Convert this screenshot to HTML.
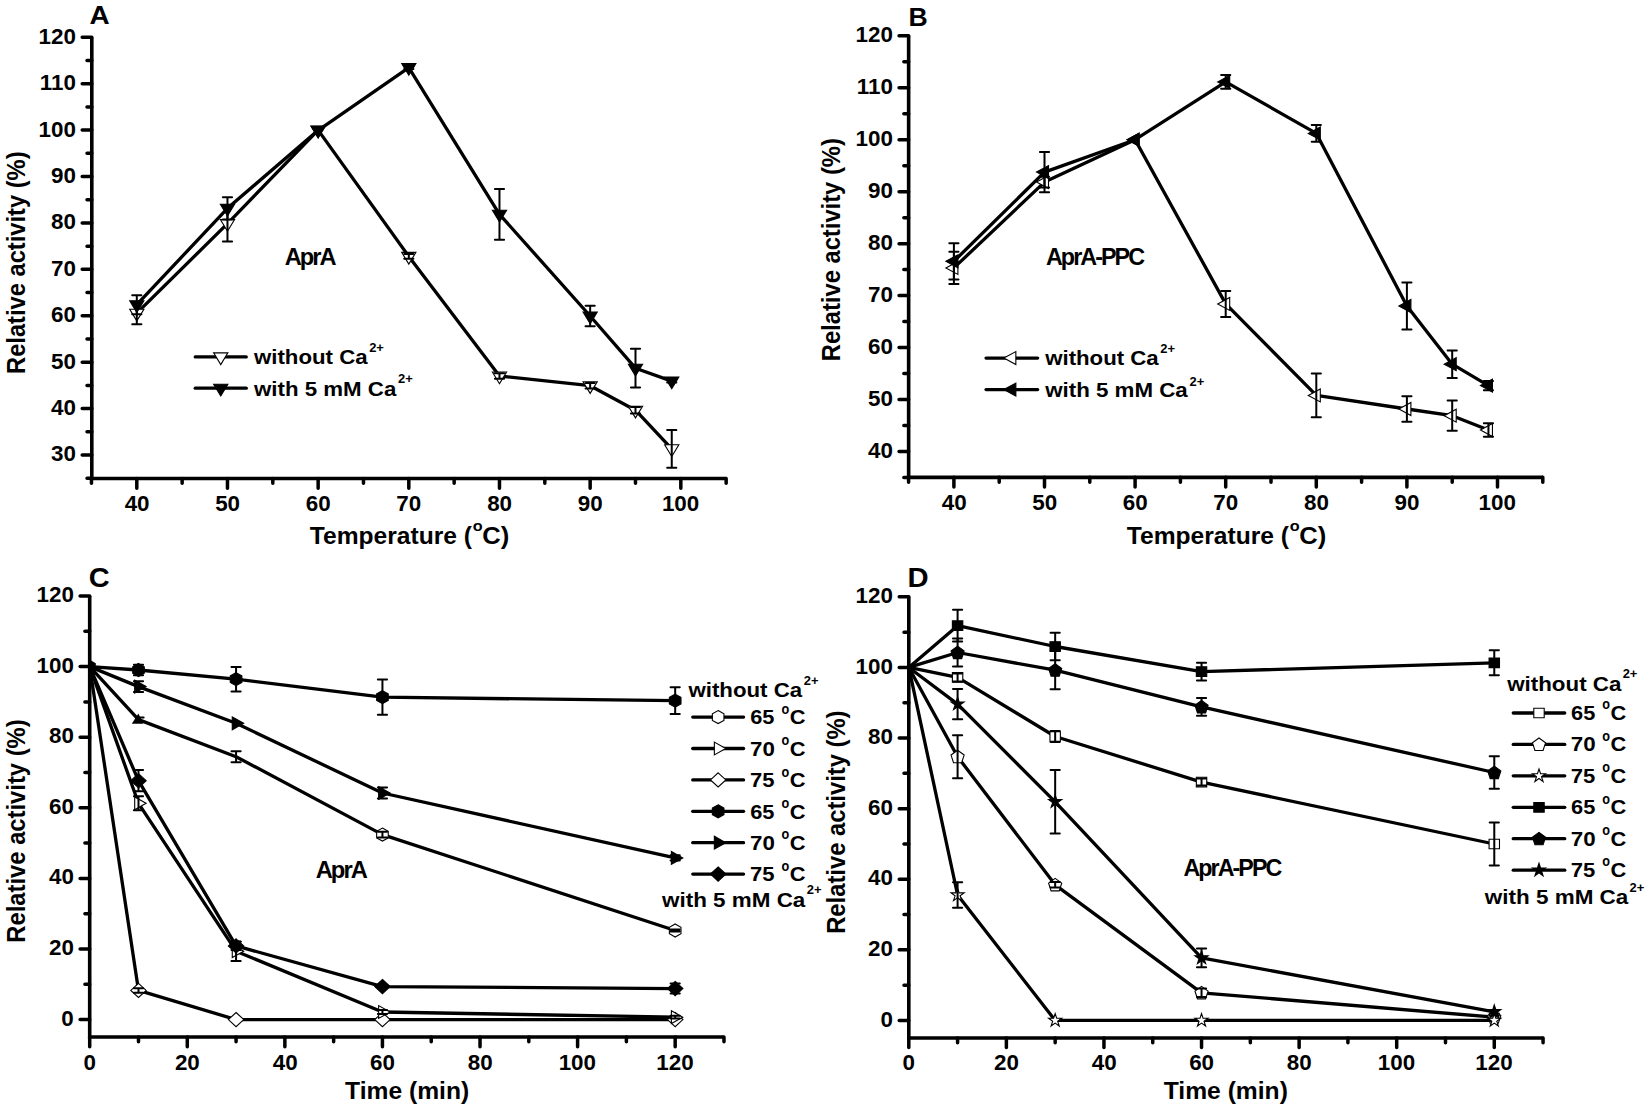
<!DOCTYPE html>
<html lang="en"><head><meta charset="utf-8"><title>Figure</title>
<style>html,body{margin:0;padding:0;background:#fff;}body{width:1650px;height:1110px;overflow:hidden;}svg{display:block;}</style>
</head><body>
<svg width="1650" height="1110" viewBox="0 0 1650 1110" font-family='"Liberation Sans", sans-serif' font-weight="bold" fill="#000">
<rect width="1650" height="1110" fill="#fff"/>
<path d="M91.80,37.30 V478.55 H726.20" stroke="#000" stroke-width="3.6" fill="none" stroke-linejoin="miter"/>
<path d="M91.80,454.99 h-9.60 M91.80,408.58 h-9.60 M91.80,362.17 h-9.60 M91.80,315.76 h-9.60 M91.80,269.35 h-9.60 M91.80,222.94 h-9.60 M91.80,176.53 h-9.60 M91.80,130.12 h-9.60 M91.80,83.71 h-9.60 M91.80,37.30 h-9.60 M91.80,478.19 h-4.80 M91.80,431.79 h-4.80 M91.80,385.38 h-4.80 M91.80,338.97 h-4.80 M91.80,292.56 h-4.80 M91.80,246.14 h-4.80 M91.80,199.74 h-4.80 M91.80,153.32 h-4.80 M91.80,106.91 h-4.80 M91.80,60.50 h-4.80 M136.80,478.55 v9.60 M227.47,478.55 v9.60 M318.14,478.55 v9.60 M408.81,478.55 v9.60 M499.48,478.55 v9.60 M590.15,478.55 v9.60 M680.82,478.55 v9.60 M91.47,478.55 v4.80 M182.14,478.55 v4.80 M272.81,478.55 v4.80 M363.48,478.55 v4.80 M454.15,478.55 v4.80 M544.82,478.55 v4.80 M635.49,478.55 v4.80 M726.15,478.55 v4.80 " stroke="#000" stroke-width="3.5" fill="none" stroke-linecap="round"/>
<text transform="translate(51.03,461.39) scale(1.0000,1)" font-size="22.4">30</text>
<text transform="translate(51.03,414.98) scale(1.0000,1)" font-size="22.4">40</text>
<text transform="translate(51.03,368.57) scale(1.0000,1)" font-size="22.4">50</text>
<text transform="translate(51.03,322.16) scale(1.0000,1)" font-size="22.4">60</text>
<text transform="translate(51.03,275.75) scale(1.0000,1)" font-size="22.4">70</text>
<text transform="translate(51.03,229.34) scale(1.0000,1)" font-size="22.4">80</text>
<text transform="translate(51.03,182.93) scale(1.0000,1)" font-size="22.4">90</text>
<text transform="translate(38.60,136.52) scale(1.0000,1)" font-size="22.4">100</text>
<text transform="translate(39.83,90.11) scale(1.0000,1)" font-size="22.4">110</text>
<text transform="translate(38.60,43.70) scale(1.0000,1)" font-size="22.4">120</text>
<text transform="translate(124.65,510.70) scale(1.0000,1)" font-size="22.4">40</text>
<text transform="translate(215.15,510.70) scale(1.0000,1)" font-size="22.4">50</text>
<text transform="translate(305.76,510.70) scale(1.0000,1)" font-size="22.4">60</text>
<text transform="translate(396.32,510.70) scale(1.0000,1)" font-size="22.4">70</text>
<text transform="translate(487.16,510.70) scale(1.0000,1)" font-size="22.4">80</text>
<text transform="translate(577.77,510.70) scale(1.0000,1)" font-size="22.4">90</text>
<text transform="translate(661.89,510.70) scale(1.0000,1)" font-size="22.4">100</text>
<polyline points="136.80,313.20 227.47,223.60 318.14,130.10 408.81,256.40 499.48,376.00 590.15,385.70 635.49,410.20 671.75,448.80" fill="none" stroke="#000" stroke-width="3.3" stroke-linejoin="round" stroke-linecap="butt"/>
<polygon points="129.70,309.20 143.90,309.20 136.80,320.90" fill="#fff" stroke="#000" stroke-width="1.1"/>
<polygon points="220.37,219.60 234.57,219.60 227.47,231.30" fill="#fff" stroke="#000" stroke-width="1.1"/>
<polygon points="311.04,126.10 325.24,126.10 318.14,137.80" fill="#fff" stroke="#000" stroke-width="1.1"/>
<polygon points="401.71,252.40 415.91,252.40 408.81,264.10" fill="#fff" stroke="#000" stroke-width="1.1"/>
<polygon points="492.38,372.00 506.58,372.00 499.48,383.70" fill="#fff" stroke="#000" stroke-width="1.1"/>
<polygon points="583.05,381.70 597.25,381.70 590.15,393.40" fill="#fff" stroke="#000" stroke-width="1.1"/>
<polygon points="628.38,406.20 642.59,406.20 635.49,417.90" fill="#fff" stroke="#000" stroke-width="1.1"/>
<polygon points="664.65,444.80 678.85,444.80 671.75,456.50" fill="#fff" stroke="#000" stroke-width="1.1"/>
<path d="M136.80,302.10 V324.30 M132.20,302.10 h9.20 M132.20,324.30 h9.20 M227.47,205.60 V241.60 M222.87,205.60 h9.20 M222.87,241.60 h9.20 M408.81,254.10 V258.70 M404.21,254.10 h9.20 M404.21,258.70 h9.20 M499.48,373.20 V378.80 M494.88,373.20 h9.20 M494.88,378.80 h9.20 M590.15,382.90 V388.50 M585.55,382.90 h9.20 M585.55,388.50 h9.20 M635.49,407.00 V413.40 M630.88,407.00 h9.20 M630.88,413.40 h9.20 M671.75,429.90 V467.70 M667.15,429.90 h9.20 M667.15,467.70 h9.20 " stroke="#000" stroke-width="2.0" fill="none" stroke-linecap="round"/>
<polyline points="136.80,304.70 227.47,208.30 318.14,130.30 408.81,67.60 499.48,214.30 590.15,316.00 635.49,368.20 671.75,381.10" fill="none" stroke="#000" stroke-width="3.3" stroke-linejoin="round" stroke-linecap="butt"/>
<polygon points="129.70,300.70 143.90,300.70 136.80,312.40" fill="#000" stroke="#000" stroke-width="1.1"/>
<polygon points="220.37,204.30 234.57,204.30 227.47,216.00" fill="#000" stroke="#000" stroke-width="1.1"/>
<polygon points="311.04,126.30 325.24,126.30 318.14,138.00" fill="#000" stroke="#000" stroke-width="1.1"/>
<polygon points="401.71,63.60 415.91,63.60 408.81,75.30" fill="#000" stroke="#000" stroke-width="1.1"/>
<polygon points="492.38,210.30 506.58,210.30 499.48,222.00" fill="#000" stroke="#000" stroke-width="1.1"/>
<polygon points="583.05,312.00 597.25,312.00 590.15,323.70" fill="#000" stroke="#000" stroke-width="1.1"/>
<polygon points="628.38,364.20 642.59,364.20 635.49,375.90" fill="#000" stroke="#000" stroke-width="1.1"/>
<polygon points="664.65,377.10 678.85,377.10 671.75,388.80" fill="#000" stroke="#000" stroke-width="1.1"/>
<path d="M136.80,295.20 V314.20 M132.20,295.20 h9.20 M132.20,314.20 h9.20 M227.47,197.20 V219.40 M222.87,197.20 h9.20 M222.87,219.40 h9.20 M408.81,66.20 V69.00 M404.21,66.20 h9.20 M404.21,69.00 h9.20 M499.48,188.90 V239.70 M494.88,188.90 h9.20 M494.88,239.70 h9.20 M590.15,305.80 V326.20 M585.55,305.80 h9.20 M585.55,326.20 h9.20 M635.49,348.80 V387.60 M630.88,348.80 h9.20 M630.88,387.60 h9.20 M671.75,379.70 V382.50 M667.15,379.70 h9.20 M667.15,382.50 h9.20 " stroke="#000" stroke-width="2.0" fill="none" stroke-linecap="round"/>
<text transform="translate(89.60,24.00) scale(1.0988,1)" font-size="25.4">A</text>
<text transform="translate(284.71,265.00) scale(0.9852,1)" font-size="24.0" letter-spacing="-2.0">AprA</text>
<path d="M195.25,356.90 H246.25" stroke="#000" stroke-width="3.3" stroke-linecap="round" fill="none"/>
<polygon points="213.65,352.90 227.85,352.90 220.75,364.60" fill="#fff" stroke="#000" stroke-width="1.1"/>
<path d="M195.25,388.20 H246.25" stroke="#000" stroke-width="3.3" stroke-linecap="round" fill="none"/>
<polygon points="213.65,384.20 227.85,384.20 220.75,395.90" fill="#000" stroke="#000" stroke-width="1.1"/>
<text transform="translate(254.00,364.20) scale(1.0585,1)" font-size="21.0">without Ca</text>
<text transform="translate(369.15,351.80) scale(1.0284,1)" font-size="12.6">2+</text>
<text transform="translate(254.00,395.50) scale(1.0611,1)" font-size="21.0">with 5 mM Ca</text>
<text transform="translate(397.95,383.10) scale(1.0284,1)" font-size="12.6">2+</text>
<text transform="translate(309.75,543.60) scale(1.0704,1)" font-size="23.0">Temperature (</text>
<text transform="translate(472.65,531.30) scale(1.0818,1)" font-size="15.0">o</text>
<text transform="translate(482.28,543.60) scale(1.1129,1)" font-size="23.0">C)</text>
<text transform="translate(25.40,373.94) rotate(-90) scale(0.9014,1)" font-size="26.3">Relative activity (%)</text>
<path d="M908.65,35.80 V477.35 H1543.00" stroke="#000" stroke-width="3.6" fill="none" stroke-linejoin="miter"/>
<path d="M908.65,451.48 h-9.60 M908.65,399.52 h-9.60 M908.65,347.56 h-9.60 M908.65,295.60 h-9.60 M908.65,243.64 h-9.60 M908.65,191.68 h-9.60 M908.65,139.72 h-9.60 M908.65,87.76 h-9.60 M908.65,35.80 h-9.60 M908.65,477.46 h-4.80 M908.65,425.50 h-4.80 M908.65,373.54 h-4.80 M908.65,321.58 h-4.80 M908.65,269.62 h-4.80 M908.65,217.66 h-4.80 M908.65,165.70 h-4.80 M908.65,113.74 h-4.80 M908.65,61.78 h-4.80 M953.90,477.35 v9.60 M1044.50,477.35 v9.60 M1135.10,477.35 v9.60 M1225.70,477.35 v9.60 M1316.30,477.35 v9.60 M1406.90,477.35 v9.60 M1497.50,477.35 v9.60 M908.60,477.35 v4.80 M999.20,477.35 v4.80 M1089.80,477.35 v4.80 M1180.40,477.35 v4.80 M1271.00,477.35 v4.80 M1361.60,477.35 v4.80 M1452.20,477.35 v4.80 M1542.80,477.35 v4.80 " stroke="#000" stroke-width="3.5" fill="none" stroke-linecap="round"/>
<text transform="translate(867.93,457.78) scale(1.0000,1)" font-size="22.4">40</text>
<text transform="translate(867.93,405.82) scale(1.0000,1)" font-size="22.4">50</text>
<text transform="translate(867.93,353.86) scale(1.0000,1)" font-size="22.4">60</text>
<text transform="translate(867.93,301.90) scale(1.0000,1)" font-size="22.4">70</text>
<text transform="translate(867.93,249.94) scale(1.0000,1)" font-size="22.4">80</text>
<text transform="translate(867.93,197.98) scale(1.0000,1)" font-size="22.4">90</text>
<text transform="translate(855.50,146.02) scale(1.0000,1)" font-size="22.4">100</text>
<text transform="translate(856.73,94.06) scale(1.0000,1)" font-size="22.4">110</text>
<text transform="translate(855.50,42.10) scale(1.0000,1)" font-size="22.4">120</text>
<text transform="translate(941.75,509.90) scale(1.0000,1)" font-size="22.4">40</text>
<text transform="translate(1032.18,509.90) scale(1.0000,1)" font-size="22.4">50</text>
<text transform="translate(1122.72,509.90) scale(1.0000,1)" font-size="22.4">60</text>
<text transform="translate(1213.21,509.90) scale(1.0000,1)" font-size="22.4">70</text>
<text transform="translate(1303.98,509.90) scale(1.0000,1)" font-size="22.4">80</text>
<text transform="translate(1394.52,509.90) scale(1.0000,1)" font-size="22.4">90</text>
<text transform="translate(1478.57,509.90) scale(1.0000,1)" font-size="22.4">100</text>
<polyline points="953.90,267.90 1044.50,182.10 1135.10,139.70 1225.70,303.90 1316.30,395.40 1406.90,409.00 1452.20,415.70 1488.44,430.00" fill="none" stroke="#000" stroke-width="3.3" stroke-linejoin="round" stroke-linecap="butt"/>
<polygon points="945.90,267.90 957.90,261.40 957.90,274.40" fill="#fff" stroke="#000" stroke-width="1.1"/>
<polygon points="1036.50,182.10 1048.50,175.60 1048.50,188.60" fill="#fff" stroke="#000" stroke-width="1.1"/>
<polygon points="1127.10,139.70 1139.10,133.20 1139.10,146.20" fill="#fff" stroke="#000" stroke-width="1.1"/>
<polygon points="1217.70,303.90 1229.70,297.40 1229.70,310.40" fill="#fff" stroke="#000" stroke-width="1.1"/>
<polygon points="1308.30,395.40 1320.30,388.90 1320.30,401.90" fill="#fff" stroke="#000" stroke-width="1.1"/>
<polygon points="1398.90,409.00 1410.90,402.50 1410.90,415.50" fill="#fff" stroke="#000" stroke-width="1.1"/>
<polygon points="1444.20,415.70 1456.20,409.20 1456.20,422.20" fill="#fff" stroke="#000" stroke-width="1.1"/>
<polygon points="1480.44,430.00 1492.44,423.50 1492.44,436.50" fill="#fff" stroke="#000" stroke-width="1.1"/>
<path d="M953.90,251.80 V284.00 M949.30,251.80 h9.20 M949.30,284.00 h9.20 M1044.50,176.70 V187.50 M1039.90,176.70 h9.20 M1039.90,187.50 h9.20 M1225.70,290.90 V316.90 M1221.10,290.90 h9.20 M1221.10,316.90 h9.20 M1316.30,373.60 V417.20 M1311.70,373.60 h9.20 M1311.70,417.20 h9.20 M1406.90,396.30 V421.70 M1402.30,396.30 h9.20 M1402.30,421.70 h9.20 M1452.20,400.60 V430.80 M1447.60,400.60 h9.20 M1447.60,430.80 h9.20 M1488.44,423.20 V436.80 M1483.84,423.20 h9.20 M1483.84,436.80 h9.20 " stroke="#000" stroke-width="2.0" fill="none" stroke-linecap="round"/>
<polyline points="953.90,261.30 1044.50,172.10 1135.10,139.70 1225.70,81.90 1316.30,133.40 1406.90,306.00 1452.20,364.20 1488.44,385.60" fill="none" stroke="#000" stroke-width="3.3" stroke-linejoin="round" stroke-linecap="butt"/>
<polygon points="945.90,261.30 957.90,254.80 957.90,267.80" fill="#000" stroke="#000" stroke-width="1.1"/>
<polygon points="1036.50,172.10 1048.50,165.60 1048.50,178.60" fill="#000" stroke="#000" stroke-width="1.1"/>
<polygon points="1127.10,139.70 1139.10,133.20 1139.10,146.20" fill="#000" stroke="#000" stroke-width="1.1"/>
<polygon points="1217.70,81.90 1229.70,75.40 1229.70,88.40" fill="#000" stroke="#000" stroke-width="1.1"/>
<polygon points="1308.30,133.40 1320.30,126.90 1320.30,139.90" fill="#000" stroke="#000" stroke-width="1.1"/>
<polygon points="1398.90,306.00 1410.90,299.50 1410.90,312.50" fill="#000" stroke="#000" stroke-width="1.1"/>
<polygon points="1444.20,364.20 1456.20,357.70 1456.20,370.70" fill="#000" stroke="#000" stroke-width="1.1"/>
<polygon points="1480.44,385.60 1492.44,379.10 1492.44,392.10" fill="#000" stroke="#000" stroke-width="1.1"/>
<path d="M953.90,243.15 V279.45 M949.30,243.15 h9.20 M949.30,279.45 h9.20 M1044.50,151.90 V192.30 M1039.90,151.90 h9.20 M1039.90,192.30 h9.20 M1225.70,75.10 V88.70 M1221.10,75.10 h9.20 M1221.10,88.70 h9.20 M1316.30,125.10 V141.70 M1311.70,125.10 h9.20 M1311.70,141.70 h9.20 M1406.90,282.60 V329.40 M1402.30,282.60 h9.20 M1402.30,329.40 h9.20 M1452.20,350.40 V378.00 M1447.60,350.40 h9.20 M1447.60,378.00 h9.20 M1488.44,380.90 V390.30 M1483.84,380.90 h9.20 M1483.84,390.30 h9.20 " stroke="#000" stroke-width="2.0" fill="none" stroke-linecap="round"/>
<text transform="translate(908.47,26.20) scale(1.0456,1)" font-size="25.4">B</text>
<text transform="translate(1045.92,264.90) scale(0.9730,1)" font-size="24.0" letter-spacing="-2.0">AprA-PPC</text>
<path d="M986.05,358.10 H1037.65" stroke="#000" stroke-width="3.3" stroke-linecap="round" fill="none"/>
<polygon points="1003.85,358.10 1015.85,351.60 1015.85,364.60" fill="#fff" stroke="#000" stroke-width="1.1"/>
<path d="M986.05,389.60 H1037.65" stroke="#000" stroke-width="3.3" stroke-linecap="round" fill="none"/>
<polygon points="1003.85,389.60 1015.85,383.10 1015.85,396.10" fill="#000" stroke="#000" stroke-width="1.1"/>
<text transform="translate(1045.20,365.30) scale(1.0585,1)" font-size="21.0">without Ca</text>
<text transform="translate(1160.35,353.30) scale(1.0284,1)" font-size="12.6">2+</text>
<text transform="translate(1045.20,397.20) scale(1.0633,1)" font-size="21.0">with 5 mM Ca</text>
<text transform="translate(1189.45,385.70) scale(1.0284,1)" font-size="12.6">2+</text>
<text transform="translate(1126.75,543.60) scale(1.0704,1)" font-size="23.0">Temperature (</text>
<text transform="translate(1289.65,531.30) scale(1.0818,1)" font-size="15.0">o</text>
<text transform="translate(1299.28,543.60) scale(1.1129,1)" font-size="23.0">C)</text>
<text transform="translate(839.80,361.25) rotate(-90) scale(0.9039,1)" font-size="26.3">Relative activity (%)</text>
<path d="M89.70,596.00 V1037.05 H723.90" stroke="#000" stroke-width="3.6" fill="none" stroke-linejoin="miter"/>
<path d="M89.70,1019.60 h-9.60 M89.70,949.00 h-9.60 M89.70,878.40 h-9.60 M89.70,807.80 h-9.60 M89.70,737.20 h-9.60 M89.70,666.60 h-9.60 M89.70,596.00 h-9.60 M89.70,984.30 h-4.80 M89.70,913.70 h-4.80 M89.70,843.10 h-4.80 M89.70,772.50 h-4.80 M89.70,701.90 h-4.80 M89.70,631.30 h-4.80 M89.70,1037.05 v9.60 M187.28,1037.05 v9.60 M284.86,1037.05 v9.60 M382.44,1037.05 v9.60 M480.02,1037.05 v9.60 M577.60,1037.05 v9.60 M675.18,1037.05 v9.60 M138.49,1037.05 v4.80 M236.07,1037.05 v4.80 M333.65,1037.05 v4.80 M431.23,1037.05 v4.80 M528.81,1037.05 v4.80 M626.39,1037.05 v4.80 M723.97,1037.05 v4.80 " stroke="#000" stroke-width="3.5" fill="none" stroke-linecap="round"/>
<text transform="translate(61.36,1025.60) scale(1.0000,1)" font-size="22.4">0</text>
<text transform="translate(48.93,955.00) scale(1.0000,1)" font-size="22.4">20</text>
<text transform="translate(48.93,884.40) scale(1.0000,1)" font-size="22.4">40</text>
<text transform="translate(48.93,813.80) scale(1.0000,1)" font-size="22.4">60</text>
<text transform="translate(48.93,743.20) scale(1.0000,1)" font-size="22.4">80</text>
<text transform="translate(36.50,672.60) scale(1.0000,1)" font-size="22.4">100</text>
<text transform="translate(36.50,602.00) scale(1.0000,1)" font-size="22.4">120</text>
<text transform="translate(83.48,1069.80) scale(1.0000,1)" font-size="22.4">0</text>
<text transform="translate(174.90,1069.80) scale(1.0000,1)" font-size="22.4">20</text>
<text transform="translate(272.71,1069.80) scale(1.0000,1)" font-size="22.4">40</text>
<text transform="translate(370.06,1069.80) scale(1.0000,1)" font-size="22.4">60</text>
<text transform="translate(467.70,1069.80) scale(1.0000,1)" font-size="22.4">80</text>
<text transform="translate(558.67,1069.80) scale(1.0000,1)" font-size="22.4">100</text>
<text transform="translate(656.25,1069.80) scale(1.0000,1)" font-size="22.4">120</text>
<polyline points="89.70,666.60 138.49,719.60 236.07,756.70 382.44,834.60 675.18,930.50" fill="none" stroke="#000" stroke-width="3.3" stroke-linejoin="round" stroke-linecap="butt"/>
<polygon points="382.44,828.10 388.24,831.30 388.24,837.90 382.44,841.10 376.64,837.90 376.64,831.30" fill="#fff" stroke="#000" stroke-width="1.1"/>
<polygon points="675.18,924.00 680.98,927.20 680.98,933.80 675.18,937.00 669.38,933.80 669.38,927.20" fill="#fff" stroke="#000" stroke-width="1.1"/>
<path d="M236.07,751.20 V762.20 M231.47,751.20 h9.20 M231.47,762.20 h9.20 M382.44,831.80 V837.40 M377.84,831.80 h9.20 M377.84,837.40 h9.20 M675.18,929.40 V931.60 M670.58,929.40 h9.20 M670.58,931.60 h9.20 " stroke="#000" stroke-width="2.0" fill="none" stroke-linecap="round"/>
<polyline points="89.70,666.60 138.49,990.40 236.07,1019.60 382.44,1019.60 675.18,1019.60" fill="none" stroke="#000" stroke-width="3.3" stroke-linejoin="round" stroke-linecap="butt"/>
<polygon points="138.49,983.30 146.19,990.40 138.49,997.50 130.79,990.40" fill="#fff" stroke="#000" stroke-width="1.1"/>
<polygon points="236.07,1012.50 243.77,1019.60 236.07,1026.70 228.37,1019.60" fill="#fff" stroke="#000" stroke-width="1.1"/>
<polygon points="382.44,1012.50 390.14,1019.60 382.44,1026.70 374.74,1019.60" fill="#fff" stroke="#000" stroke-width="1.1"/>
<polygon points="675.18,1012.50 682.88,1019.60 675.18,1026.70 667.48,1019.60" fill="#fff" stroke="#000" stroke-width="1.1"/>
<path d="M138.49,988.15 V992.65 M133.89,988.15 h9.20 M133.89,992.65 h9.20 " stroke="#000" stroke-width="2.0" fill="none" stroke-linecap="round"/>
<polyline points="89.70,666.60 138.49,803.30 236.07,951.20 382.44,1012.00 675.18,1017.20" fill="none" stroke="#000" stroke-width="3.3" stroke-linejoin="round" stroke-linecap="butt"/>
<polygon points="146.09,803.30 134.69,796.90 134.69,809.70" fill="#fff" stroke="#000" stroke-width="1.1"/>
<polygon points="243.67,951.20 232.27,944.80 232.27,957.60" fill="#fff" stroke="#000" stroke-width="1.1"/>
<polygon points="390.04,1012.00 378.64,1005.60 378.64,1018.40" fill="#fff" stroke="#000" stroke-width="1.1"/>
<polygon points="682.78,1017.20 671.38,1010.80 671.38,1023.60" fill="#fff" stroke="#000" stroke-width="1.1"/>
<path d="M138.49,796.30 V810.30 M133.89,796.30 h9.20 M133.89,810.30 h9.20 M236.07,941.50 V960.90 M231.47,941.50 h9.20 M231.47,960.90 h9.20 M382.44,1009.90 V1014.10 M377.84,1009.90 h9.20 M377.84,1014.10 h9.20 M675.18,1015.80 V1018.60 M670.58,1015.80 h9.20 M670.58,1018.60 h9.20 " stroke="#000" stroke-width="2.0" fill="none" stroke-linecap="round"/>
<polyline points="89.70,666.60 138.49,670.00 236.07,679.20 382.44,697.20 675.18,700.70" fill="none" stroke="#000" stroke-width="3.3" stroke-linejoin="round" stroke-linecap="butt"/>
<polygon points="138.49,663.50 144.29,666.70 144.29,673.30 138.49,676.50 132.69,673.30 132.69,666.70" fill="#000" stroke="#000" stroke-width="1.1"/>
<polygon points="236.07,672.70 241.87,675.90 241.87,682.50 236.07,685.70 230.27,682.50 230.27,675.90" fill="#000" stroke="#000" stroke-width="1.1"/>
<polygon points="382.44,690.70 388.24,693.90 388.24,700.50 382.44,703.70 376.64,700.50 376.64,693.90" fill="#000" stroke="#000" stroke-width="1.1"/>
<polygon points="675.18,694.20 680.98,697.40 680.98,704.00 675.18,707.20 669.38,704.00 669.38,697.40" fill="#000" stroke="#000" stroke-width="1.1"/>
<path d="M138.49,664.70 V675.30 M133.89,664.70 h9.20 M133.89,675.30 h9.20 M236.07,666.90 V691.50 M231.47,666.90 h9.20 M231.47,691.50 h9.20 M382.44,679.60 V714.80 M377.84,679.60 h9.20 M377.84,714.80 h9.20 M675.18,687.30 V714.10 M670.58,687.30 h9.20 M670.58,714.10 h9.20 " stroke="#000" stroke-width="2.0" fill="none" stroke-linecap="round"/>
<polygon points="89.70,659.80 95.80,663.20 95.80,670.00 89.70,673.40" fill="#000"/>
<polygon points="138.4,713.4 143.2,723.8 131.8,723.8" fill="#000"/>
<path d="M139,717.6 H143.6" stroke="#000" stroke-width="2" stroke-linecap="round" fill="none"/>
<polyline points="89.70,666.60 138.49,686.60 236.07,723.30 382.44,793.00 675.18,857.90" fill="none" stroke="#000" stroke-width="3.3" stroke-linejoin="round" stroke-linecap="butt"/>
<polygon points="146.09,686.60 134.69,680.20 134.69,693.00" fill="#000" stroke="#000" stroke-width="1.1"/>
<polygon points="243.67,723.30 232.27,716.90 232.27,729.70" fill="#000" stroke="#000" stroke-width="1.1"/>
<polygon points="390.04,793.00 378.64,786.60 378.64,799.40" fill="#000" stroke="#000" stroke-width="1.1"/>
<polygon points="682.78,857.90 671.38,851.50 671.38,864.30" fill="#000" stroke="#000" stroke-width="1.1"/>
<path d="M138.49,681.30 V691.90 M133.89,681.30 h9.20 M133.89,691.90 h9.20 M382.44,787.40 V798.60 M377.84,787.40 h9.20 M377.84,798.60 h9.20 M675.18,855.30 V860.50 M670.58,855.30 h9.20 M670.58,860.50 h9.20 " stroke="#000" stroke-width="2.0" fill="none" stroke-linecap="round"/>
<polyline points="89.70,666.60 138.49,780.70 236.07,945.90 382.44,986.60 675.18,988.55" fill="none" stroke="#000" stroke-width="3.3" stroke-linejoin="round" stroke-linecap="butt"/>
<polygon points="138.49,773.60 146.19,780.70 138.49,787.80 130.79,780.70" fill="#000" stroke="#000" stroke-width="1.1"/>
<polygon points="236.07,938.80 243.77,945.90 236.07,953.00 228.37,945.90" fill="#000" stroke="#000" stroke-width="1.1"/>
<polygon points="382.44,979.50 390.14,986.60 382.44,993.70 374.74,986.60" fill="#000" stroke="#000" stroke-width="1.1"/>
<polygon points="675.18,981.45 682.88,988.55 675.18,995.65 667.48,988.55" fill="#000" stroke="#000" stroke-width="1.1"/>
<path d="M138.49,770.10 V791.30 M133.89,770.10 h9.20 M133.89,791.30 h9.20 M236.07,941.70 V950.10 M231.47,941.70 h9.20 M231.47,950.10 h9.20 M382.44,985.20 V988.00 M377.84,985.20 h9.20 M377.84,988.00 h9.20 M675.18,983.55 V993.55 M670.58,983.55 h9.20 M670.58,993.55 h9.20 " stroke="#000" stroke-width="2.0" fill="none" stroke-linecap="round"/>
<text transform="translate(88.84,586.80) scale(1.0626,1)" font-size="27.3">C</text>
<text transform="translate(315.71,878.00) scale(0.9891,1)" font-size="24.0" letter-spacing="-2.0">AprA</text>
<path d="M692.75,717.10 H743.55" stroke="#000" stroke-width="3.3" stroke-linecap="round" fill="none"/>
<polygon points="718.15,710.60 723.95,713.80 723.95,720.40 718.15,723.60 712.35,720.40 712.35,713.80" fill="#fff" stroke="#000" stroke-width="1.1"/>
<text transform="translate(750.24,724.40) scale(1.0385,1)" font-size="21.0">65</text>
<text transform="translate(781.49,713.70) scale(0.9030,1)" font-size="14.0">o</text>
<text transform="translate(789.73,724.40) scale(1.0396,1)" font-size="21.0">C</text>
<path d="M692.75,748.50 H743.55" stroke="#000" stroke-width="3.3" stroke-linecap="round" fill="none"/>
<polygon points="725.75,748.50 714.35,742.10 714.35,754.90" fill="#fff" stroke="#000" stroke-width="1.1"/>
<text transform="translate(749.99,755.80) scale(1.0639,1)" font-size="21.0">70</text>
<text transform="translate(781.49,745.10) scale(0.9030,1)" font-size="14.0">o</text>
<text transform="translate(789.73,755.80) scale(1.0396,1)" font-size="21.0">C</text>
<path d="M692.75,779.90 H743.55" stroke="#000" stroke-width="3.3" stroke-linecap="round" fill="none"/>
<polygon points="718.15,772.80 725.85,779.90 718.15,787.00 710.45,779.90" fill="#fff" stroke="#000" stroke-width="1.1"/>
<text transform="translate(750.01,787.20) scale(1.0485,1)" font-size="21.0">75</text>
<text transform="translate(781.49,776.50) scale(0.9030,1)" font-size="14.0">o</text>
<text transform="translate(789.73,787.20) scale(1.0396,1)" font-size="21.0">C</text>
<path d="M692.75,811.30 H743.55" stroke="#000" stroke-width="3.3" stroke-linecap="round" fill="none"/>
<polygon points="718.15,804.80 723.95,808.00 723.95,814.60 718.15,817.80 712.35,814.60 712.35,808.00" fill="#000" stroke="#000" stroke-width="1.1"/>
<text transform="translate(750.24,818.60) scale(1.0385,1)" font-size="21.0">65</text>
<text transform="translate(781.49,807.90) scale(0.9030,1)" font-size="14.0">o</text>
<text transform="translate(789.73,818.60) scale(1.0396,1)" font-size="21.0">C</text>
<path d="M692.75,842.70 H743.55" stroke="#000" stroke-width="3.3" stroke-linecap="round" fill="none"/>
<polygon points="725.75,842.70 714.35,836.30 714.35,849.10" fill="#000" stroke="#000" stroke-width="1.1"/>
<text transform="translate(749.99,850.00) scale(1.0639,1)" font-size="21.0">70</text>
<text transform="translate(781.49,839.30) scale(0.9030,1)" font-size="14.0">o</text>
<text transform="translate(789.73,850.00) scale(1.0396,1)" font-size="21.0">C</text>
<path d="M692.75,874.10 H743.55" stroke="#000" stroke-width="3.3" stroke-linecap="round" fill="none"/>
<polygon points="718.15,867.00 725.85,874.10 718.15,881.20 710.45,874.10" fill="#000" stroke="#000" stroke-width="1.1"/>
<text transform="translate(750.01,881.40) scale(1.0485,1)" font-size="21.0">75</text>
<text transform="translate(781.49,870.70) scale(0.9030,1)" font-size="14.0">o</text>
<text transform="translate(789.73,881.40) scale(1.0396,1)" font-size="21.0">C</text>
<text transform="translate(688.40,697.20) scale(1.0604,1)" font-size="21.0">without Ca</text>
<text transform="translate(803.85,684.60) scale(1.0284,1)" font-size="12.6">2+</text>
<text transform="translate(662.00,906.50) scale(1.0685,1)" font-size="21.0">with 5 mM Ca</text>
<text transform="translate(806.75,894.20) scale(1.0284,1)" font-size="12.6">2+</text>
<text transform="translate(345.05,1099.00) scale(1.0712,1)" font-size="23.0">Time (min)</text>
<text transform="translate(25.20,942.65) rotate(-90) scale(0.9043,1)" font-size="26.3">Relative activity (%)</text>
<path d="M908.80,596.85 V1038.00 H1543.15" stroke="#000" stroke-width="3.6" fill="none" stroke-linejoin="miter"/>
<path d="M908.80,1020.45 h-9.60 M908.80,949.85 h-9.60 M908.80,879.25 h-9.60 M908.80,808.65 h-9.60 M908.80,738.05 h-9.60 M908.80,667.45 h-9.60 M908.80,596.85 h-9.60 M908.80,985.15 h-4.80 M908.80,914.55 h-4.80 M908.80,843.95 h-4.80 M908.80,773.35 h-4.80 M908.80,702.75 h-4.80 M908.80,632.15 h-4.80 M908.80,1038.00 v9.60 M1006.38,1038.00 v9.60 M1103.96,1038.00 v9.60 M1201.54,1038.00 v9.60 M1299.12,1038.00 v9.60 M1396.70,1038.00 v9.60 M1494.28,1038.00 v9.60 M957.59,1038.00 v4.80 M1055.17,1038.00 v4.80 M1152.75,1038.00 v4.80 M1250.33,1038.00 v4.80 M1347.91,1038.00 v4.80 M1445.49,1038.00 v4.80 M1543.07,1038.00 v4.80 " stroke="#000" stroke-width="3.5" fill="none" stroke-linecap="round"/>
<text transform="translate(880.46,1026.55) scale(1.0000,1)" font-size="22.4">0</text>
<text transform="translate(868.03,955.95) scale(1.0000,1)" font-size="22.4">20</text>
<text transform="translate(868.03,885.35) scale(1.0000,1)" font-size="22.4">40</text>
<text transform="translate(868.03,814.75) scale(1.0000,1)" font-size="22.4">60</text>
<text transform="translate(868.03,744.15) scale(1.0000,1)" font-size="22.4">80</text>
<text transform="translate(855.60,673.55) scale(1.0000,1)" font-size="22.4">100</text>
<text transform="translate(855.60,602.95) scale(1.0000,1)" font-size="22.4">120</text>
<text transform="translate(902.58,1070.40) scale(1.0000,1)" font-size="22.4">0</text>
<text transform="translate(994.00,1070.40) scale(1.0000,1)" font-size="22.4">20</text>
<text transform="translate(1091.81,1070.40) scale(1.0000,1)" font-size="22.4">40</text>
<text transform="translate(1189.16,1070.40) scale(1.0000,1)" font-size="22.4">60</text>
<text transform="translate(1286.80,1070.40) scale(1.0000,1)" font-size="22.4">80</text>
<text transform="translate(1377.77,1070.40) scale(1.0000,1)" font-size="22.4">100</text>
<text transform="translate(1475.35,1070.40) scale(1.0000,1)" font-size="22.4">120</text>
<polyline points="908.80,667.45 957.59,677.40 1055.17,736.50 1201.54,782.10 1494.28,844.00" fill="none" stroke="#000" stroke-width="3.3" stroke-linejoin="round" stroke-linecap="butt"/>
<polygon points="952.39,672.60 962.79,672.60 962.79,682.20 952.39,682.20" fill="#fff" stroke="#000" stroke-width="1.1"/>
<polygon points="1049.97,731.70 1060.37,731.70 1060.37,741.30 1049.97,741.30" fill="#fff" stroke="#000" stroke-width="1.1"/>
<polygon points="1196.34,777.30 1206.74,777.30 1206.74,786.90 1196.34,786.90" fill="#fff" stroke="#000" stroke-width="1.1"/>
<polygon points="1489.08,839.20 1499.48,839.20 1499.48,848.80 1489.08,848.80" fill="#fff" stroke="#000" stroke-width="1.1"/>
<path d="M957.59,673.40 V681.40 M952.99,673.40 h9.20 M952.99,681.40 h9.20 M1055.17,731.10 V741.90 M1050.57,731.10 h9.20 M1050.57,741.90 h9.20 M1201.54,778.60 V785.60 M1196.94,778.60 h9.20 M1196.94,785.60 h9.20 M1494.28,822.50 V865.50 M1489.68,822.50 h9.20 M1489.68,865.50 h9.20 " stroke="#000" stroke-width="2.0" fill="none" stroke-linecap="round"/>
<polyline points="908.80,667.45 957.59,756.70 1055.17,884.80 1201.54,992.80 1494.28,1017.20" fill="none" stroke="#000" stroke-width="3.3" stroke-linejoin="round" stroke-linecap="butt"/>
<polygon points="957.59,750.30 964.15,755.07 961.65,762.78 953.53,762.78 951.03,755.07" fill="#fff" stroke="#000" stroke-width="1.1"/>
<polygon points="1055.17,878.40 1061.73,883.17 1059.23,890.88 1051.11,890.88 1048.61,883.17" fill="#fff" stroke="#000" stroke-width="1.1"/>
<polygon points="1201.54,986.40 1208.10,991.17 1205.60,998.88 1197.48,998.88 1194.98,991.17" fill="#fff" stroke="#000" stroke-width="1.1"/>
<polygon points="1494.28,1010.80 1500.84,1015.57 1498.34,1023.28 1490.22,1023.28 1487.72,1015.57" fill="#fff" stroke="#000" stroke-width="1.1"/>
<path d="M957.59,735.20 V778.20 M952.99,735.20 h9.20 M952.99,778.20 h9.20 M1055.17,882.00 V887.60 M1050.57,882.00 h9.20 M1050.57,887.60 h9.20 M1201.54,988.60 V997.00 M1196.94,988.60 h9.20 M1196.94,997.00 h9.20 M1494.28,1015.80 V1018.60 M1489.68,1015.80 h9.20 M1489.68,1018.60 h9.20 " stroke="#000" stroke-width="2.0" fill="none" stroke-linecap="round"/>
<polyline points="908.80,667.45 957.59,895.00 1055.17,1020.45 1201.54,1020.45 1494.28,1020.45" fill="none" stroke="#000" stroke-width="3.3" stroke-linejoin="round" stroke-linecap="butt"/>
<polygon points="957.59,888.10 959.14,892.87 964.15,892.87 960.09,895.81 961.65,900.58 957.59,897.63 953.53,900.58 955.09,895.81 951.03,892.87 956.04,892.87" fill="#fff" stroke="#000" stroke-width="1.1"/>
<polygon points="1055.17,1013.55 1056.72,1018.32 1061.73,1018.32 1057.67,1021.26 1059.23,1026.03 1055.17,1023.08 1051.11,1026.03 1052.67,1021.26 1048.61,1018.32 1053.62,1018.32" fill="#fff" stroke="#000" stroke-width="1.1"/>
<polygon points="1201.54,1013.55 1203.09,1018.32 1208.10,1018.32 1204.04,1021.26 1205.60,1026.03 1201.54,1023.08 1197.48,1026.03 1199.04,1021.26 1194.98,1018.32 1199.99,1018.32" fill="#fff" stroke="#000" stroke-width="1.1"/>
<polygon points="1494.28,1013.55 1495.83,1018.32 1500.84,1018.32 1496.78,1021.26 1498.34,1026.03 1494.28,1023.08 1490.22,1026.03 1491.78,1021.26 1487.72,1018.32 1492.73,1018.32" fill="#fff" stroke="#000" stroke-width="1.1"/>
<path d="M957.59,882.30 V907.70 M952.99,882.30 h9.20 M952.99,907.70 h9.20 " stroke="#000" stroke-width="2.0" fill="none" stroke-linecap="round"/>
<polyline points="908.80,667.45 957.59,625.70 1055.17,646.50 1201.54,671.60 1494.28,662.80" fill="none" stroke="#000" stroke-width="3.3" stroke-linejoin="round" stroke-linecap="butt"/>
<polygon points="952.39,620.90 962.79,620.90 962.79,630.50 952.39,630.50" fill="#000" stroke="#000" stroke-width="1.1"/>
<polygon points="1049.97,641.70 1060.37,641.70 1060.37,651.30 1049.97,651.30" fill="#000" stroke="#000" stroke-width="1.1"/>
<polygon points="1196.34,666.80 1206.74,666.80 1206.74,676.40 1196.34,676.40" fill="#000" stroke="#000" stroke-width="1.1"/>
<polygon points="1489.08,658.00 1499.48,658.00 1499.48,667.60 1489.08,667.60" fill="#000" stroke="#000" stroke-width="1.1"/>
<path d="M957.59,609.80 V641.60 M952.99,609.80 h9.20 M952.99,641.60 h9.20 M1055.17,632.70 V660.30 M1050.57,632.70 h9.20 M1050.57,660.30 h9.20 M1201.54,662.80 V680.40 M1196.94,662.80 h9.20 M1196.94,680.40 h9.20 M1494.28,650.30 V675.30 M1489.68,650.30 h9.20 M1489.68,675.30 h9.20 " stroke="#000" stroke-width="2.0" fill="none" stroke-linecap="round"/>
<polyline points="908.80,667.45 957.59,652.50 1055.17,670.20 1201.54,706.90 1494.28,772.50" fill="none" stroke="#000" stroke-width="3.3" stroke-linejoin="round" stroke-linecap="butt"/>
<polygon points="957.59,646.10 964.15,650.87 961.65,658.58 953.53,658.58 951.03,650.87" fill="#000" stroke="#000" stroke-width="1.1"/>
<polygon points="1055.17,663.80 1061.73,668.57 1059.23,676.28 1051.11,676.28 1048.61,668.57" fill="#000" stroke="#000" stroke-width="1.1"/>
<polygon points="1201.54,700.50 1208.10,705.27 1205.60,712.98 1197.48,712.98 1194.98,705.27" fill="#000" stroke="#000" stroke-width="1.1"/>
<polygon points="1494.28,766.10 1500.84,770.87 1498.34,778.58 1490.22,778.58 1487.72,770.87" fill="#000" stroke="#000" stroke-width="1.1"/>
<path d="M957.59,638.40 V666.60 M952.99,638.40 h9.20 M952.99,666.60 h9.20 M1055.17,651.10 V689.30 M1050.57,651.10 h9.20 M1050.57,689.30 h9.20 M1201.54,698.10 V715.70 M1196.94,698.10 h9.20 M1196.94,715.70 h9.20 M1494.28,756.30 V788.70 M1489.68,756.30 h9.20 M1489.68,788.70 h9.20 " stroke="#000" stroke-width="2.0" fill="none" stroke-linecap="round"/>
<polyline points="908.80,667.45 957.59,704.10 1055.17,801.80 1201.54,957.90 1494.28,1011.80" fill="none" stroke="#000" stroke-width="3.3" stroke-linejoin="round" stroke-linecap="butt"/>
<polygon points="957.59,697.20 959.14,701.97 964.15,701.97 960.09,704.91 961.65,709.68 957.59,706.73 953.53,709.68 955.09,704.91 951.03,701.97 956.04,701.97" fill="#000" stroke="#000" stroke-width="1.1"/>
<polygon points="1055.17,794.90 1056.72,799.67 1061.73,799.67 1057.67,802.61 1059.23,807.38 1055.17,804.43 1051.11,807.38 1052.67,802.61 1048.61,799.67 1053.62,799.67" fill="#000" stroke="#000" stroke-width="1.1"/>
<polygon points="1201.54,951.00 1203.09,955.77 1208.10,955.77 1204.04,958.71 1205.60,963.48 1201.54,960.53 1197.48,963.48 1199.04,958.71 1194.98,955.77 1199.99,955.77" fill="#000" stroke="#000" stroke-width="1.1"/>
<polygon points="1494.28,1004.90 1495.83,1009.67 1500.84,1009.67 1496.78,1012.61 1498.34,1017.38 1494.28,1014.43 1490.22,1017.38 1491.78,1012.61 1487.72,1009.67 1492.73,1009.67" fill="#000" stroke="#000" stroke-width="1.1"/>
<path d="M957.59,688.90 V719.30 M952.99,688.90 h9.20 M952.99,719.30 h9.20 M1055.17,770.00 V833.60 M1050.57,770.00 h9.20 M1050.57,833.60 h9.20 M1201.54,948.50 V967.30 M1196.94,948.50 h9.20 M1196.94,967.30 h9.20 M1494.28,1010.00 V1013.60 M1489.68,1010.00 h9.20 M1489.68,1013.60 h9.20 " stroke="#000" stroke-width="2.0" fill="none" stroke-linecap="round"/>
<text transform="translate(907.40,586.80) scale(1.0682,1)" font-size="27.4">D</text>
<text transform="translate(1183.42,875.60) scale(0.9700,1)" font-size="24.0" letter-spacing="-2.0">AprA-PPC</text>
<path d="M1513.25,713.00 H1564.75" stroke="#000" stroke-width="3.3" stroke-linecap="round" fill="none"/>
<polygon points="1533.80,708.20 1544.20,708.20 1544.20,717.80 1533.80,717.80" fill="#fff" stroke="#000" stroke-width="1.1"/>
<text transform="translate(1571.04,720.00) scale(1.0385,1)" font-size="21.0">65</text>
<text transform="translate(1602.29,709.30) scale(0.9030,1)" font-size="14.0">o</text>
<text transform="translate(1610.53,720.00) scale(1.0396,1)" font-size="21.0">C</text>
<path d="M1513.25,744.43 H1564.75" stroke="#000" stroke-width="3.3" stroke-linecap="round" fill="none"/>
<polygon points="1539.00,738.03 1545.56,742.80 1543.06,750.51 1534.94,750.51 1532.44,742.80" fill="#fff" stroke="#000" stroke-width="1.1"/>
<text transform="translate(1570.79,751.43) scale(1.0639,1)" font-size="21.0">70</text>
<text transform="translate(1602.29,740.73) scale(0.9030,1)" font-size="14.0">o</text>
<text transform="translate(1610.53,751.43) scale(1.0396,1)" font-size="21.0">C</text>
<path d="M1513.25,775.86 H1564.75" stroke="#000" stroke-width="3.3" stroke-linecap="round" fill="none"/>
<polygon points="1539.00,768.96 1540.55,773.73 1545.56,773.73 1541.50,776.67 1543.06,781.44 1539.00,778.49 1534.94,781.44 1536.50,776.67 1532.44,773.73 1537.45,773.73" fill="#fff" stroke="#000" stroke-width="1.1"/>
<text transform="translate(1570.81,782.86) scale(1.0485,1)" font-size="21.0">75</text>
<text transform="translate(1602.29,772.16) scale(0.9030,1)" font-size="14.0">o</text>
<text transform="translate(1610.53,782.86) scale(1.0396,1)" font-size="21.0">C</text>
<path d="M1513.25,807.29 H1564.75" stroke="#000" stroke-width="3.3" stroke-linecap="round" fill="none"/>
<polygon points="1533.80,802.49 1544.20,802.49 1544.20,812.09 1533.80,812.09" fill="#000" stroke="#000" stroke-width="1.1"/>
<text transform="translate(1571.04,814.29) scale(1.0385,1)" font-size="21.0">65</text>
<text transform="translate(1602.29,803.59) scale(0.9030,1)" font-size="14.0">o</text>
<text transform="translate(1610.53,814.29) scale(1.0396,1)" font-size="21.0">C</text>
<path d="M1513.25,838.72 H1564.75" stroke="#000" stroke-width="3.3" stroke-linecap="round" fill="none"/>
<polygon points="1539.00,832.32 1545.56,837.09 1543.06,844.80 1534.94,844.80 1532.44,837.09" fill="#000" stroke="#000" stroke-width="1.1"/>
<text transform="translate(1570.79,845.72) scale(1.0639,1)" font-size="21.0">70</text>
<text transform="translate(1602.29,835.02) scale(0.9030,1)" font-size="14.0">o</text>
<text transform="translate(1610.53,845.72) scale(1.0396,1)" font-size="21.0">C</text>
<path d="M1513.25,870.15 H1564.75" stroke="#000" stroke-width="3.3" stroke-linecap="round" fill="none"/>
<polygon points="1539.00,863.25 1540.55,868.02 1545.56,868.02 1541.50,870.96 1543.06,875.73 1539.00,872.78 1534.94,875.73 1536.50,870.96 1532.44,868.02 1537.45,868.02" fill="#000" stroke="#000" stroke-width="1.1"/>
<text transform="translate(1570.81,877.15) scale(1.0485,1)" font-size="21.0">75</text>
<text transform="translate(1602.29,866.45) scale(0.9030,1)" font-size="14.0">o</text>
<text transform="translate(1610.53,877.15) scale(1.0396,1)" font-size="21.0">C</text>
<text transform="translate(1507.20,691.00) scale(1.0641,1)" font-size="21.0">without Ca</text>
<text transform="translate(1622.65,678.10) scale(1.0284,1)" font-size="12.6">2+</text>
<text transform="translate(1484.80,904.00) scale(1.0700,1)" font-size="21.0">with 5 mM Ca</text>
<text transform="translate(1629.45,891.50) scale(1.0284,1)" font-size="12.6">2+</text>
<text transform="translate(1163.75,1099.00) scale(1.0712,1)" font-size="23.0">Time (min)</text>
<text transform="translate(845.30,933.85) rotate(-90) scale(0.9047,1)" font-size="26.3">Relative activity (%)</text>
</svg>
</body></html>
